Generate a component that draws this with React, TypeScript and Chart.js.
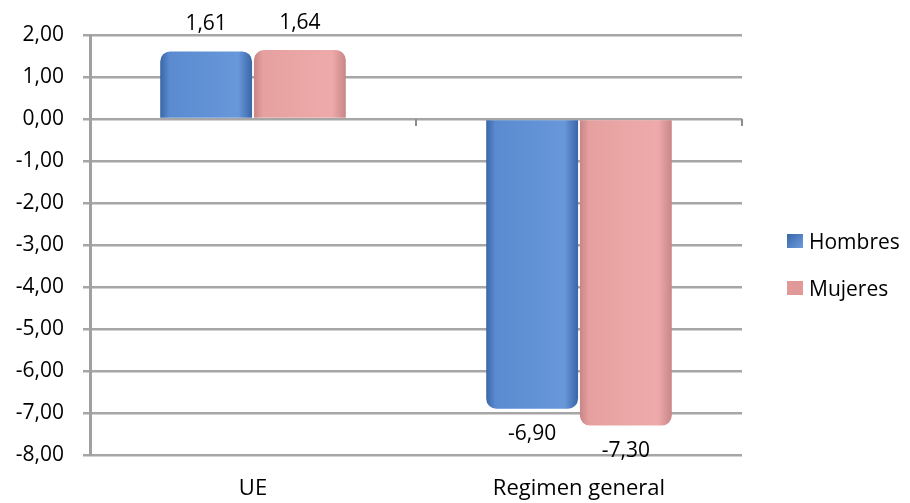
import React, { useEffect, useRef } from "react";
import { Chart, registerables } from "chart.js";

Chart.register(...registerables);

const categories = ["UE", "Regimen general"];
const hombres = [1.61, -6.9];
const mujeres = [1.64, -7.3];
const seriesNames = ["Hombres", "Mujeres"];
const yMin = -8;
const yMax = 2;
const yStep = 1;

const FONT = "'Open Sans', Lato, sans-serif";
const CAT_PCT = 0.575;
const BAR_PCT = 0.98;

const fmt = (v: number) => v.toFixed(2).replace(".", ",");

const palettes = [
  { dark: "#3a66a6", mid: "#5a8bd0", light: "#6897da" },
  { dark: "#c98686", mid: "#e6a0a0", light: "#eeaaaa" },
];

function makeBg(dsIndex: number) {
  return (ctx: any) => {
    const chart = ctx.chart;
    const area = chart.chartArea;
    const p = palettes[dsIndex];
    if (!area || ctx.dataIndex === undefined) return p.mid;
    const catW = (area.right - area.left) / categories.length;
    const groupW = catW * CAT_PCT;
    const slot = groupW / 2;
    const cx = area.left + catW * (ctx.dataIndex + 0.5);
    const x0 = cx - groupW / 2 + slot * dsIndex + (slot * (1 - BAR_PCT)) / 2;
    const x1 = x0 + slot * BAR_PCT;
    const g = chart.ctx.createLinearGradient(x0, 0, x1, 0);
    g.addColorStop(0, p.dark);
    g.addColorStop(0.1, p.mid);
    g.addColorStop(0.85, p.light);
    g.addColorStop(1, p.dark);
    return g;
  };
}

const labelPlugin = {
  id: "valueLabels",
  afterDatasetsDraw(chart: any) {
    const c = chart.ctx;
    c.save();
    c.font = `21px ${FONT}`;
    c.fillStyle = "#000";
    c.textAlign = "center";
    c.textBaseline = "middle";
    chart.data.datasets.forEach((ds: any, i: number) => {
      const meta = chart.getDatasetMeta(i);
      meta.data.forEach((bar: any, j: number) => {
        const v = ds.data[j];
        const y = v >= 0 ? bar.y - 27 : bar.y + 25;
        c.fillText(fmt(v), bar.x, y);
      });
    });
    const area = chart.chartArea;
    const y0 = chart.scales.y.getPixelForValue(0);
    const catW = (area.right - area.left) / categories.length;
    c.strokeStyle = "#8c8c8c";
    c.lineWidth = 2;
    for (let k = 1; k <= categories.length; k++) {
      const x = area.left + catW * k;
      c.beginPath();
      c.moveTo(x, y0);
      c.lineTo(x, y0 + 7);
      c.stroke();
    }
    c.restore();
  },
};

export default function App() {
  const ref = useRef<HTMLCanvasElement | null>(null);
  useEffect(() => {
    if (!ref.current) return;
    const chart = new Chart(ref.current, {
      type: "bar",
      data: {
        labels: categories,
        datasets: [
          {
            label: seriesNames[0],
            data: hombres,
            backgroundColor: makeBg(0),
            borderRadius: 10,
            borderSkipped: "start",
            categoryPercentage: CAT_PCT,
            barPercentage: BAR_PCT,
          },
          {
            label: seriesNames[1],
            data: mujeres,
            backgroundColor: makeBg(1),
            borderRadius: 10,
            borderSkipped: "start",
            categoryPercentage: CAT_PCT,
            barPercentage: BAR_PCT,
          },
        ],
      },
      options: {
        responsive: false,
        animation: false,
        layout: { padding: { left: 0, right: 168, top: 35, bottom: 0 } },
        plugins: {
          legend: { display: false },
          tooltip: { enabled: false },
        },
        scales: {
          x: {
            grid: { display: false },
            border: { display: false },
            ticks: {
              color: "#000",
              font: { family: FONT, size: 22 },
              padding: 13,
            },
            afterFit(scale: any) {
              scale.height = 48;
            },
          },
          y: {
            min: yMin,
            max: yMax,
            ticks: {
              stepSize: yStep,
              color: "#000",
              font: { family: FONT, size: 21 },
              padding: 19,
              callback: (v: any) => fmt(Number(v)),
            },
            grid: {
              color: "#a6a6a6",
              lineWidth: 2.5,
              tickLength: 7,
              drawTicks: true,
            },
            border: { color: "#a0a0a0", width: 3 },
            afterFit(scale: any) {
              scale.width = 90;
            },
          },
        },
      },
      plugins: [labelPlugin],
    });
    return () => chart.destroy();
  }, []);

  const legendItem = (name: string, color: string, top: number) => (
    <div
      style={{
        position: "absolute",
        left: 787,
        top,
        display: "flex",
        alignItems: "center",
        fontFamily: FONT,
        fontSize: 21,
        color: "#000",
        lineHeight: "24px",
      }}
    >
      <span
        style={{
          display: "inline-block",
          width: 16,
          height: 14,
          background: color,
          marginRight: 6,
        }}
      />
      <span>{name}</span>
    </div>
  );

  return (
    <div
      style={{
        position: "absolute",
        left: 0,
        top: 0,
        width: 910,
        height: 503,
        background: "#fff",
      }}
    >
      <canvas ref={ref} width={910} height={503} />
      {legendItem(seriesNames[0], "linear-gradient(135deg,#3a66a6,#6b9ce0)", 229)}
      {legendItem(seriesNames[1], "#e09898", 276)}
    </div>
  );
}
